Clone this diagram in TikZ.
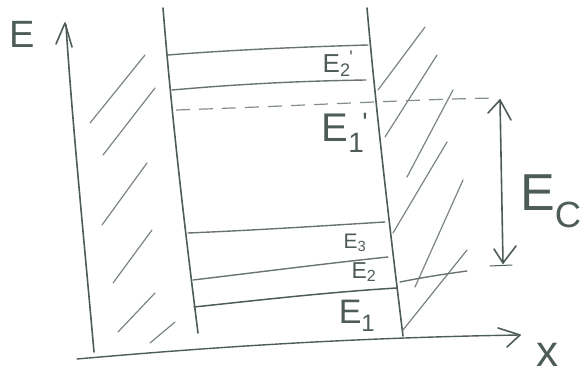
\documentclass[tikz,border=0pt]{standalone}
\usepackage{fontspec}
\setmainfont{Liberation Sans}
\definecolor{pen}{RGB}{78,92,88}
\newcommand\myEprime[1]{E\textsubscript{#1}\kern-0.05em\textsuperscript{\textquotesingle}}
\begin{document}
\begin{tikzpicture}[x=1pt,y=-1pt,
  pencil/.style={draw=pen,line width=1.6pt,line cap=round,line join=round},
  hatch/.style={draw=pen!75,line width=1.2pt,line cap=round},
  lvl/.style={draw=pen!85,line width=1.4pt,line cap=round},
  dashlvl/.style={draw=pen!70,line width=1.2pt,dash pattern=on 14pt off 9pt},
  lab/.style={text=pen,inner sep=0pt,anchor=center}]
\useasboundingbox (0,0) rectangle (587,377);

% axes
\coordinate (Ebot) at (94,352);
\coordinate (Etop) at (66,25);
\draw[pencil] (Ebot) .. controls (85,250) and (72,120) .. (Etop);
\draw[pencil] (56,44) -- (65,23) -- (72,47);
\coordinate (Xl) at (77,359);
\coordinate (Xr) at (520,335);
\draw[pencil,line width=1.4pt] (Xl) .. controls (180,350) and (330,338) .. (Xr);
\draw[pencil] (498,328) -- (520,335) -- (507,347);

% walls
\draw[pencil] (163,8) .. controls (172,120) and (185,230) .. (198,333);
\draw[pencil] (367,8) .. controls (377,120) and (390,230) .. (403,336);

% left hatching
\foreach \a/\b in {{90,123}/{145,55},{103,155}/{155,88},{102,225}/{147,163},{113,283}/{152,230},{118,332}/{155,293},{150,343}/{175,322}}
  \draw[hatch] (\a) -- (\b);
% right hatching
\foreach \a/\b in {{378,90}/{425,27},{385,137}/{437,55},{407,177}/{453,90},{393,233}/{447,142},{415,287}/{463,180},{403,330}/{467,250}}
  \draw[hatch] (\a) -- (\b);

% levels
\draw[lvl] (168,55) .. controls (230,50) and (300,47) .. (368,45);
\draw[lvl] (172,90) .. controls (240,84) and (300,81) .. (366,80);
\draw[dashlvl] (176,110) .. controls (300,106) and (420,99) .. (497,98);
\draw[lvl] (188,233) .. controls (260,230) and (320,226) .. (385,222);
\draw[lvl] (193,280) .. controls (260,272) and (330,263) .. (388,257);
\draw[lvl] (400,282) .. controls (425,277) and (445,274) .. (467,271);
\draw[pencil,line width=1.5pt] (194,307) .. controls (260,300) and (330,292) .. (397,288);

% E_c arrow
\coordinate (Ct) at (500,100);
\coordinate (Cb) at (503,263);
\draw[pencil] (Ct) -- (Cb);
\draw[pencil] (488,113) -- (Ct) -- (511,120);
\draw[pencil] (494,249) -- (Cb) -- (516,246);
\draw[pencil,line width=1pt] (490,266) -- (512,265);

% labels
\node[lab,font=\fontsize{26}{26}\selectfont] (l2p) at (338,64) {\myEprime{2}};
\node[lab,font=\fontsize{40}{40}\selectfont] (l1p) at (345,133) {\myEprime{1}};
\node[lab,font=\fontsize{21}{21}\selectfont] (l3) at (355,243) {E\textsubscript{3}};
\node[lab,font=\fontsize{23}{23}\selectfont] (l2) at (364,272) {E\textsubscript{2}};
\node[lab,font=\fontsize{34}{34}\selectfont] (l1) at (357,316) {E\textsubscript{1}};
\node[lab,font=\fontsize{52}{52}\selectfont] (lc) at (551,201) {E\textsubscript{C}};
\node[lab,font=\fontsize{38}{38}\selectfont] (le) at (22,34) {E};
\node[lab,font=\fontsize{44}{44}\selectfont] (lx) at (547,355) {x};
\end{tikzpicture}
\end{document}
